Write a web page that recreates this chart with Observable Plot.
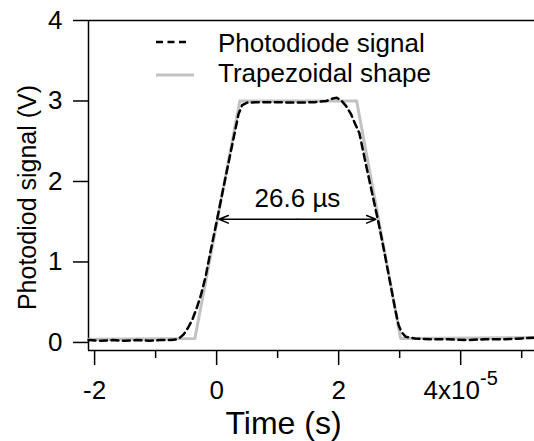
<!DOCTYPE html>
<html>
<head>
<meta charset="utf-8">
<script src="https://cdn.jsdelivr.net/npm/d3@7"></script>
<script src="https://cdn.jsdelivr.net/npm/@observablehq/plot@0.6"></script>
<style>
  html, body { margin: 0; padding: 0; background: white; }
  #wrap { position: relative; width: 534px; height: 441px; font-family: "Liberation Sans", Arial, sans-serif; }
  #legend { position: absolute; left: 0; top: 0; pointer-events: none; }
</style>
</head>
<body>
<div id="wrap"></div>
<script>
// ---- data ----
// Photodiode signal (dashed), time in seconds, signal in volts
const pdTime = [-2.1e-5, -1.9e-5, -1.7e-5, -1.5e-5, -1.3e-5, -1.1e-5, -0.9e-5, -0.75e-5, -0.65e-5,
  -0.6e-5, -0.54e-5, -0.47e-5, -0.4e-5, -0.33e-5, -0.26e-5, -0.18e-5, -0.1e-5, 0, 0.1e-5, 0.2e-5,
  0.3e-5, 0.36e-5, 0.42e-5, 0.5e-5, 0.7e-5, 1.0e-5, 1.3e-5, 1.6e-5, 1.8e-5, 1.9e-5, 1.97e-5, 2.05e-5,
  2.12e-5, 2.2e-5, 2.28e-5, 2.34e-5, 2.45e-5, 2.55e-5, 2.65e-5, 2.75e-5, 2.85e-5, 2.93e-5, 2.98e-5,
  3.03e-5, 3.1e-5, 3.25e-5, 3.5e-5, 3.8e-5, 4.1e-5, 4.4e-5, 4.7e-5, 5.0e-5, 5.21e-5];
const pdSignal = [0.03, 0.02, 0.03, 0.02, 0.03, 0.02, 0.03, 0.03, 0.04,
  0.06, 0.1, 0.18, 0.28, 0.42, 0.58, 0.82, 1.13, 1.5, 1.88, 2.25,
  2.62, 2.84, 2.95, 2.98, 2.985, 2.985, 2.98, 2.985, 3.0, 3.03, 3.04, 3.0,
  2.94, 2.84, 2.7, 2.6, 2.2, 1.85, 1.5, 1.12, 0.72, 0.4, 0.22,
  0.13, 0.07, 0.05, 0.04, 0.04, 0.03, 0.04, 0.04, 0.05, 0.06];

// Trapezoidal shape (gray)
const trapTime = [-2.1e-5, -0.356e-5, 0.38e-5, 2.295e-5, 3.016e-5, 5.21e-5];
const trapSignal = [0.04, 0.05, 3.0, 3.0, 0.05, 0.06];

// Annotation: full width at half maximum
const fwhmLabel = "26.6 \u00b5s";
const fwhmLevel = [1.53];
const fwhmStart = [0.04e-5];
const fwhmEnd = [2.61e-5];

// Axes
const xDomain = [-2.1e-5, 5.21e-5];
const yDomain = [-0.1, 4];
const xMajorTicks = [-2e-5, 0, 2e-5, 4e-5];
const xMajorLabels = ["-2", "0", "2", "4x10"];
const xExponent = "-5";
const xMinorTicks = [-1e-5, 1e-5, 3e-5, 5e-5];
const yTicks = [0, 1, 2, 3, 4];
const yTickLabels = ["0", "1", "2", "3", "4"];
const xTitle = "Time (s)";
const yTitle = "Photodiod signal (V)";
const seriesNames = ["Photodiode signal", "Trapezoidal shape"];

// ---- build ----
const pd = pdTime.map((t, i) => ({t, v: pdSignal[i]}));
const trap = trapTime.map((t, i) => ({t, v: trapSignal[i]}));
const mid = (fwhmStart[0] + fwhmEnd[0]) / 2;
const arrows = [
  {x1: mid, x2: fwhmStart[0], y: fwhmLevel[0]},
  {x1: mid, x2: fwhmEnd[0], y: fwhmLevel[0]}
];

const chart = Plot.plot({
  width: 534,
  height: 441,
  marginLeft: 88,
  marginRight: 0,
  marginTop: 20,
  marginBottom: 91,
  style: {fontFamily: "'Liberation Sans', Arial, sans-serif", fontSize: "26px", color: "black", background: "white", overflow: "visible"},
  x: {domain: xDomain},
  y: {domain: yDomain},
  marks: [
    // frame lines
    Plot.ruleY([yDomain[1]], {stroke: "black", strokeWidth: 1.5}),
    Plot.ruleY([yDomain[0]], {stroke: "black", strokeWidth: 1.5}),
    Plot.ruleX([xDomain[0]], {stroke: "black", strokeWidth: 1.5}),
    // axes
    Plot.axisY({ticks: yTicks, tickSize: 15, tickPadding: 11, strokeWidth: 1.5,
      tickFormat: d => yTickLabels[yTicks.indexOf(d)], fontSize: 26, label: null}),
    Plot.axisX({ticks: xMajorTicks, tickSize: 15, tickPadding: 15, strokeWidth: 1.5,
      tickFormat: d => xMajorLabels[xMajorTicks.indexOf(d)], fontSize: 26, label: null}),
    Plot.axisX({ticks: xMinorTicks, tickSize: 8, strokeWidth: 1.5, tickFormat: () => "", label: null}),
    // series
    Plot.line(trap, {x: "t", y: "v", stroke: "#c2c2c2", strokeWidth: 3}),
    Plot.line(pd, {x: "t", y: "v", stroke: "black", strokeWidth: 2.5, strokeDasharray: "7,4.5"}),
    // annotation
    Plot.arrow(arrows, {x1: "x1", x2: "x2", y1: "y", y2: "y", stroke: "black", strokeWidth: 1.5, headLength: 10, headAngle: 45}),
    Plot.text([fwhmLabel], {x: () => mid, y: () => fwhmLevel[0], text: d => d, dy: -21, fontSize: 26}),
    // titles
    Plot.text([xTitle], {frameAnchor: "bottom", text: d => d, textAnchor: "middle", lineAnchor: "middle", dx: -28, dy: 73, fontSize: 32}),
    Plot.text([yTitle], {frameAnchor: "left", text: d => d, textAnchor: "middle", lineAnchor: "middle", rotate: -90, dx: -61, dy: 12, fontSize: 25})
  ]
});

// superscript exponent on the last x tick label
d3.select(chart).selectAll("text").each(function() {
  if (this.textContent === xMajorLabels[xMajorLabels.length - 1]) {
    d3.select(this).append("tspan").attr("dy", "-14").attr("font-size", 20).text(xExponent);
  }
});

const wrap = document.getElementById("wrap");
wrap.appendChild(chart);

// legend (overlay)
const leg = d3.select(wrap).append("svg").attr("id", "legend").attr("width", 534).attr("height", 441)
  .style("font-family", "'Liberation Sans', Arial, sans-serif");
leg.append("line").attr("x1", 156).attr("x2", 186).attr("y1", 42).attr("y2", 42)
  .attr("stroke", "black").attr("stroke-width", 2.5).attr("stroke-dasharray", "7,4.5");
leg.append("text").attr("x", 218).attr("y", 51.5).attr("font-size", 26).text(seriesNames[0]);
leg.append("line").attr("x1", 156).attr("x2", 194).attr("y1", 75).attr("y2", 75)
  .attr("stroke", "#c2c2c2").attr("stroke-width", 3);
leg.append("text").attr("x", 218).attr("y", 81.5).attr("font-size", 26).text(seriesNames[1]);
</script>
</body>
</html>
